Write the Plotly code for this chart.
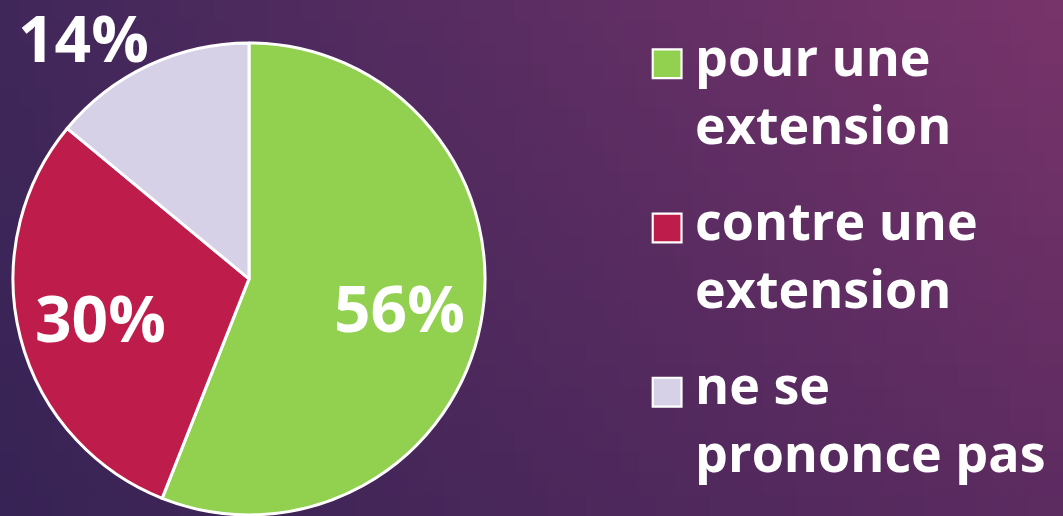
import math
import plotly.graph_objects as go

labels = ["pour une<br>extension", "contre une<br>extension", "ne se<br>prononce pas"]
values = [56, 30, 14]
colors = ["#92d050", "#be1c4a", "#d6d1e6"]
label_inside = [True, True, False]

W, H = 1063, 516
FONT = "Open Sans"
PCT_SIZE = 64
DOM_X = [13 / W, 485 / W]
DOM_Y = [0.002, 0.917]

# background gradient corners (decoration)
c_tl = (0x40, 0x27, 0x5a)
c_tr = (0x78, 0x34, 0x6b)
c_bl = (0x37, 0x23, 0x55)
c_br = (0x5c, 0x2b, 0x60)

def lerp(a, b, t):
    return tuple(a[i] + (b[i] - a[i]) * t for i in range(3))

shapes = []
nx, ny = 60, 24
for i in range(nx):
    for j in range(ny):
        u = (i + 0.5) / nx
        v = (j + 0.5) / ny  # 0 bottom, 1 top
        top = lerp(c_tl, c_tr, u)
        bot = lerp(c_bl, c_br, u)
        c = lerp(bot, top, v)
        shapes.append(dict(
            type="rect", xref="paper", yref="paper",
            x0=i / nx, x1=(i + 1) / nx + 0.002, y0=j / ny, y1=(j + 1) / ny + 0.004,
            fillcolor="rgb(%d,%d,%d)" % tuple(int(round(x)) for x in c),
            line=dict(width=0), layer="below",
        ))

total = sum(values)
pct_text = ["%d%%" % round(100 * v / total) for v in values]

fig = go.Figure()
fig.add_trace(go.Pie(
    labels=labels,
    values=values,
    sort=False,
    direction="clockwise",
    rotation=0,
    showlegend=False,
    marker=dict(colors=colors, line=dict(color="white", width=3)),
    textinfo="none",
    domain=dict(x=DOM_X, y=DOM_Y),
    hoverinfo="label+percent",
))

# percentage labels placed along each slice's mid-angle
cx_px = (DOM_X[0] + DOM_X[1]) / 2 * W
cy_px = (1 - (DOM_Y[0] + DOM_Y[1]) / 2) * H
r_px = min((DOM_X[1] - DOM_X[0]) * W, (DOM_Y[1] - DOM_Y[0]) * H) / 2
annotations = []
cum = 0
for v, t, ins in zip(values, pct_text, label_inside):
    mid = (cum + v / 2) / total * 2 * math.pi
    cum += v
    sx, sy = math.sin(mid), -math.cos(mid)
    extra = {}
    if ins:
        k = 0.65
        xa, ya = "center", "middle"
    else:
        k = 0.98
        xa = "right" if sx < 0 else "left"
        ya = "bottom" if sy < 0 else "top"
        extra = dict(height=62)
    px = cx_px + k * r_px * sx
    py = cy_px + k * r_px * sy
    annotations.append(dict(
        x=px / W, y=1 - py / H, xref="paper", yref="paper",
        text=t, showarrow=False, xanchor=xa, yanchor=ya,
        font=dict(family=FONT, size=PCT_SIZE, color="white", weight="bold"),
        **extra,
    ))

# legend entries (one per category, each its own group so a gap can separate them)
for lab, col in zip(labels, colors):
    fig.add_trace(go.Scatter(
        x=[None], y=[None], mode="markers", name=lab, legendgroup=lab,
        marker=dict(symbol="square", size=16, color=col,
                    line=dict(color="white", width=1.2)),
        hoverinfo="skip",
    ))

fig.update_layout(
    width=W, height=H,
    margin=dict(l=0, r=0, t=0, b=0, autoexpand=False),
    paper_bgcolor="#4a2a5e",
    plot_bgcolor="rgba(0,0,0,0)",
    shapes=shapes,
    annotations=annotations,
    showlegend=True,
    xaxis=dict(visible=False),
    yaxis=dict(visible=False),
    legend=dict(
        x=0.605, y=0.97, xanchor="left", yanchor="top",
        font=dict(family=FONT, size=52, color="white", weight="bold"),
        bgcolor="rgba(0,0,0,0)",
        valign="top",
        tracegroupgap=26,
        itemwidth=42,
    ),
)

post = """
document.body.style.margin='0';
document.body.style.overflow='hidden';
document.querySelectorAll('.legend .legendpoints path').forEach(function(p){
  var t = p.getAttribute('transform') || '';
  p.setAttribute('transform', t + ' translate(-2,8) scale(1.8)');
});
"""

fig.write_html("out.html", post_script=post, config={"displayModeBar": False})
